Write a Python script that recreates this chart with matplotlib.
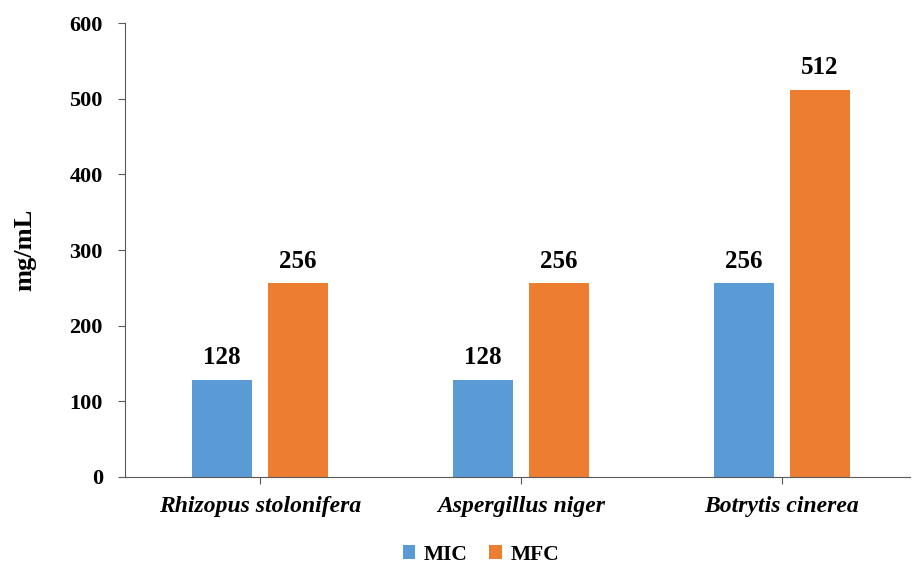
import matplotlib
matplotlib.use("Agg")
import matplotlib.pyplot as plt
import numpy as np

species = ["Rhizopus stolonifera", "Aspergillus niger", "Botrytis cinerea"]
mic = [128, 128, 256]
mfc = [256, 256, 512]

plt.rcParams['font.family'] = ['Liberation Serif', 'DejaVu Serif']
plt.rcParams['font.weight'] = 'bold'

fig = plt.figure(figsize=(9.2, 5.65), dpi=100)
ax = fig.add_axes([0.1359, 0.156, 0.853, 0.803])

x = np.arange(len(species))
w = 0.23
off = 0.145
b1 = ax.bar(x - off, mic, w, color='#5B9BD5', label='MIC')
b2 = ax.bar(x + off, mfc, w, color='#ED7D31', label='MFC')

for bars, vals in ((b1, mic), (b2, mfc)):
    for r, v in zip(bars, vals):
        ax.text(r.get_x() + r.get_width() / 2, v + 14, str(v),
                ha='center', va='bottom', fontsize=18, fontweight='bold')

ax.set_xlim(-0.517, 2.49)
ax.set_ylim(0, 600)
ax.set_yticks(range(0, 601, 100))
ax.set_xticks(x)
ax.set_xticklabels(species, fontstyle='italic', fontweight='bold', fontsize=17)
ax.tick_params(axis='y', labelsize=16, length=5, color='#595959', pad=11)
ax.tick_params(axis='x', length=5, color='#595959', pad=9)
for lab in ax.get_yticklabels():
    lab.set_fontweight('bold')

for s in ('top', 'right'):
    ax.spines[s].set_visible(False)
ax.spines['left'].set_color('#595959')
ax.spines['bottom'].set_color('#595959')

ax.set_ylabel('mg/mL', fontsize=19, fontweight='bold', labelpad=24)

fig.legend(handles=[b1, b2], loc='lower center', bbox_to_anchor=(0.523, -0.034),
           ncol=2, frameon=False, handlelength=0.6, handleheight=0.6,
           columnspacing=1.0, handletextpad=0.4, prop={'weight': 'bold', 'size': 15.5})

fig.savefig('out.png', dpi=100)
